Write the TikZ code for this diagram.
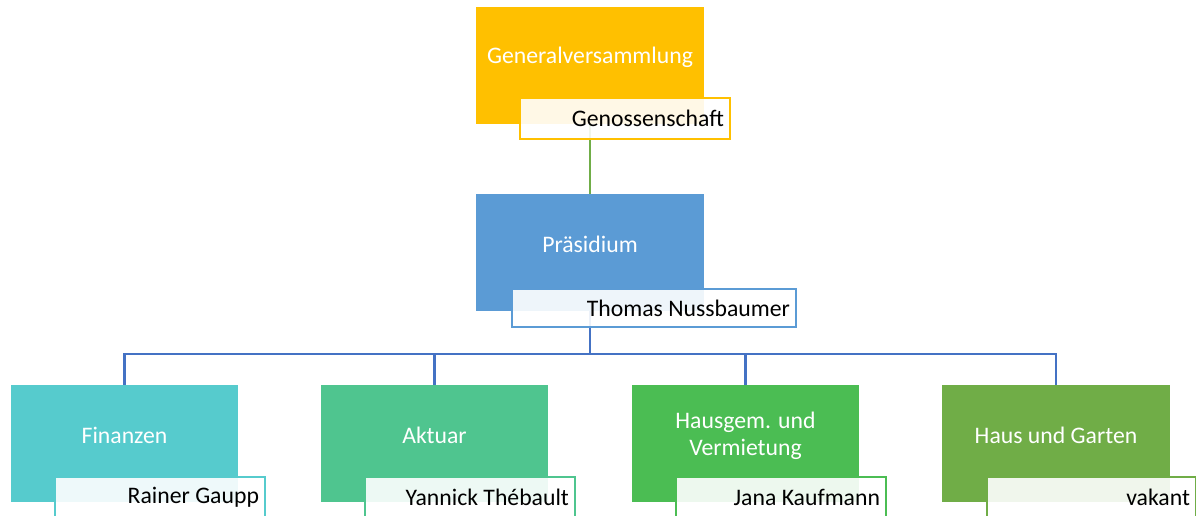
\documentclass[tikz,border=0pt]{standalone}
\usepackage{fontspec}
\setmainfont{Carlito}
\usetikzlibrary{positioning}
\definecolor{gvorange}{HTML}{FFC000}
\definecolor{presblue}{HTML}{5B9BD5}
\definecolor{treeblue}{HTML}{4472C4}
\definecolor{lineg}{HTML}{70AD47}
\definecolor{finteal}{HTML}{56CBCD}
\definecolor{aktgreen}{HTML}{4FC58F}
\definecolor{hausgreen}{HTML}{4BBD53}
\definecolor{gartgreen}{HTML}{70AD47}

\begin{document}
\begin{tikzpicture}[x=0.02cm,y=-0.02cm,
  unit/.style={minimum width=4.56cm,minimum height=2.34cm,inner sep=0pt},
  title/.style={text=white,font=\fontsize{13.5}{15.5}\selectfont,align=center},
  person/.style={draw,line width=1.1pt,fill=white,fill opacity=0.9,text opacity=1,
                 minimum height=0.82cm,inner xsep=0.12cm,inner ysep=0pt,align=flush right,
                 font=\fontsize{13.5}{15.5}\selectfont},
  conn/.style={line width=1.3pt}
]
\useasboundingbox (0,0) rectangle (1196,515);
\clip (0,0) rectangle (1196,515);

% main boxes
\node[unit,fill=gvorange] (gv) at (590,65.5) {};
\node[unit,fill=presblue] (pres) at (590,252.5) {};
\node[unit,fill=finteal] (fin) at (124.5,443.5) {};
\node[unit,fill=aktgreen] (akt) at (434.5,443.5) {};
\node[unit,fill=hausgreen] (haus) at (745.5,443.5) {};
\node[unit,fill=gartgreen] (gart) at (1056,443.5) {};

\node[title] (gvtext) at ([yshift=4.5pt]gv.center) {Generalversammlung};
\node[title] (prestext) at ([yshift=4.5pt]pres.center) {Präsidium};
\node[title] (fintext) at ([yshift=4.5pt]fin.center) {Finanzen};
\node[title] (akttext) at ([yshift=4.5pt]akt.center) {Aktuar};
\node[title] (haustext) at ([yshift=4.5pt]haus.center) {Hausgem. und\\Vermietung};
\node[title] (garttext) at ([yshift=4.5pt]gart.center) {Haus und Garten};

% connectors
\coordinate (bus) at (590,354);
\draw[conn,lineg] (gv.south) -- (pres.north);
\draw[conn,treeblue] (pres.south) -- (bus);
\foreach \sub in {fin,akt,haus,gart}
  \draw[conn,treeblue] (bus) -| (\sub.north);

% name boxes
\node[person,draw=gvorange,text width=3.96cm] (gvname) at (625,118.5) {Genossenschaft};
\node[person,draw=presblue,text width=5.44cm,minimum height=0.76cm] (presname) at (654,308) {Thomas Nussbaumer};
\node[person,draw=finteal,text width=3.96cm] (finname) at (160,497.5) {Rainer Gaupp};
\node[person,draw=aktgreen,text width=3.96cm] (aktname) at (470,497.5) {Yannick Thébault};
\node[person,draw=hausgreen,text width=3.96cm] (hausname) at (781,497.5) {Jana Kaufmann};
\node[person,draw=gartgreen,text width=3.94cm] (gartname) at (1091.5,497.5) {vakant};
\end{tikzpicture}
\end{document}
